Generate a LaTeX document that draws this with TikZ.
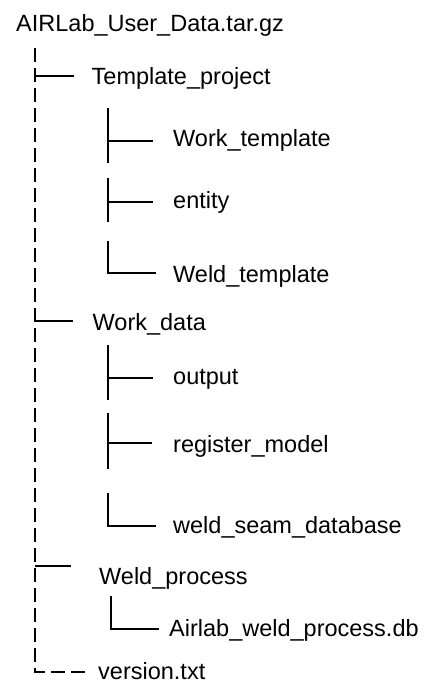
\documentclass[tikz,border=0pt]{standalone}
\usepackage{fontspec}
\setmainfont{Liberation Sans}
\begin{document}
\begin{tikzpicture}[x=1pt,y=-1pt,
  label/.style={anchor=base west,inner sep=0pt,font=\fontsize{23.5}{28}\selectfont},
  solidline/.style={line width=2pt},
  dashline/.style={line width=1.6pt,dash pattern=on 14pt off 6pt}]
\useasboundingbox[fill=white] (0,0) rectangle (436,694);
% nodes
\node[label] (root) at (16,31) {AIRLab\_User\_Data.tar.gz};
\node[label] (tp) at (91.5,84) {Template\_project};
\node[label] (wt) at (173,146.7) {Work\_template};
\node[label] (en) at (173,208.3) {entity};
\node[label] (wlt) at (173,282.7) {Weld\_template};
\node[label] (wd) at (92.5,330) {Work\_data};
\node[label] (out) at (173,384.3) {output};
\node[label] (reg) at (173,452.7) {register\_model};
\node[label] (wsd) at (173,533) {weld\_seam\_database};
\node[label] (wp) at (99,584.3) {Weld\_process};
\node[label] (adb) at (169,636.7) {Airlab\_weld\_process.db};
\node[label] (ver) at (98,679.3) {version.txt};
% coordinates
\coordinate (mTop) at (35,48);
\coordinate (mBot) at (35,672);
\coordinate (mEnd) at (85,672);
\coordinate (mTp) at (35,76);   \coordinate (eTp) at (74,76);
\coordinate (mWd) at (35,320.7); \coordinate (eWd) at (73,320.7);
\coordinate (mWp) at (35,565.7); \coordinate (eWp) at (71,565.7);
% main dashed trunk
\draw[dashline] (mTop) -- (mBot) -- (mEnd);
\draw[solidline] (mTp) -- (eTp);
\draw[solidline] (mWd) -- (eWd);
\draw[solidline] (mWp) -- (eWp);
% Template_project children
\coordinate (a1) at (108,108); \coordinate (a2) at (108,163);
\coordinate (a3) at (108,141); \coordinate (a4) at (153,141);
\draw[solidline] (a1) -- (a2);
\draw[solidline] (a3) -- (a4);
\coordinate (b1) at (108,178); \coordinate (b2) at (108,222);
\coordinate (b3) at (108,202.3); \coordinate (b4) at (153,202.3);
\draw[solidline] (b1) -- (b2);
\draw[solidline] (b3) -- (b4);
\coordinate (c1) at (108,240.7); \coordinate (c2) at (108,273.3);
\coordinate (c3) at (156,273.3);
\draw[solidline] (c1) -- (c2) -- (c3);
% Work_data children
\coordinate (d1) at (108,345); \coordinate (d2) at (108,400);
\coordinate (d3) at (108,378.3); \coordinate (d4) at (153,378.3);
\draw[solidline] (d1) -- (d2);
\draw[solidline] (d3) -- (d4);
\coordinate (e1) at (108,413); \coordinate (e2) at (108,469);
\coordinate (e3) at (107,442.7); \coordinate (e4) at (152,442.7);
\draw[solidline] (e1) -- (e2);
\draw[solidline] (e3) -- (e4);
\coordinate (f1) at (108,492.7); \coordinate (f2) at (108,526);
\coordinate (f3) at (156,526);
\draw[solidline] (f1) -- (f2) -- (f3);
% Weld_process child
\coordinate (g1) at (110.7,596); \coordinate (g2) at (110.7,629);
\coordinate (g3) at (159,629);
\draw[solidline] (g1) -- (g2) -- (g3);
\end{tikzpicture}
\end{document}
